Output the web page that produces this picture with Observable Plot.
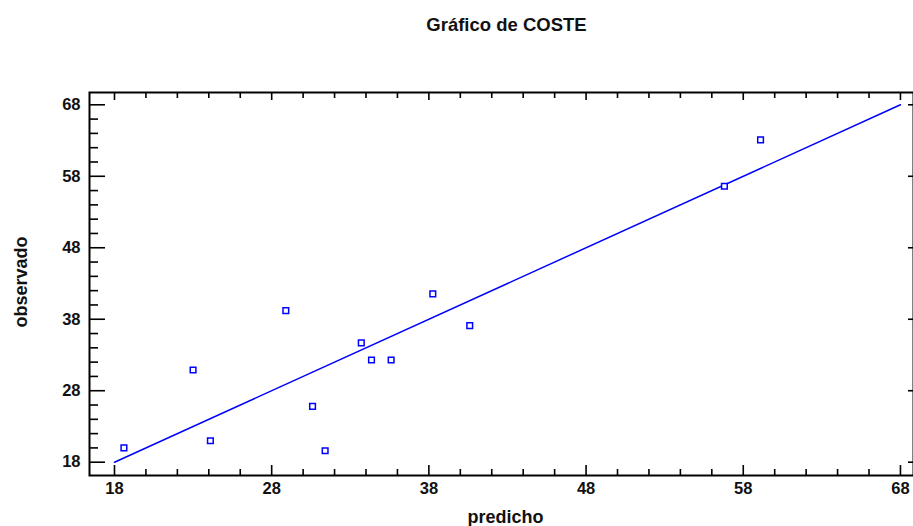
<!DOCTYPE html>
<html><head><meta charset="utf-8">
<script src="https://cdn.jsdelivr.net/npm/d3@7"></script>
<script src="https://cdn.jsdelivr.net/npm/@observablehq/plot@0.6"></script>
<style>body{margin:0;background:#fff;} svg{display:block}</style>
</head><body><div id="chart"></div>
<script>
const title = "Gráfico de COSTE";
const xLabel = "predicho";
const yLabel = "observado";
const predicho  = [18.6, 23.0, 24.1, 28.9, 30.6, 31.4, 33.7, 34.35, 35.6, 38.25, 40.6, 56.8, 59.1];
const observado = [20.0, 30.9, 21.0, 39.2, 25.8, 19.6, 34.7, 32.3, 32.3, 41.55, 37.1, 56.6, 63.1];
const fitX = [18, 68];
const fitY = [18, 68];
const majorTicks = [18, 28, 38, 48, 58, 68];
const minorTicks = [20, 22, 24, 26, 30, 32, 34, 36, 40, 42, 44, 46, 50, 52, 54, 56, 60, 62, 64, 66];

const points = predicho.map((p, i) => ({p, o: observado[i]}));
const fit = fitX.map((x, i) => ({x, y: fitY[i]}));

const W = 913, H = 526;
const mL = 89, mR = 0, mT = 92, mB = 51;
const pw = W - mL - mR, ph = H - mT - mB;
const blue = "#0000ff";
const ink = "#111";
const font = {fontSize: 16.5, fontWeight: "bold", fill: ink};
const labelFont = {fontSize: 18, fontWeight: "bold", fill: ink, textAnchor: "middle", lineAnchor: "middle"};

const chart = Plot.plot({
  width: W, height: H,
  marginLeft: mL, marginRight: mR, marginTop: mT, marginBottom: mB,
  style: {fontFamily: "'Liberation Sans', Arial, sans-serif", background: "white", color: ink},
  x: {domain: [16.41, 68.83]},
  y: {domain: [16.14, 69.72]},
  marks: [
    Plot.frame({stroke: "black", strokeWidth: 2}),
    Plot.ruleX(majorTicks, {stroke: "black", strokeWidth: 1.6, insetTop: ph - 10}),
    Plot.ruleX(minorTicks, {stroke: "black", strokeWidth: 1.6, insetTop: ph - 6}),
    Plot.ruleX(majorTicks, {stroke: "black", strokeWidth: 1.6, insetBottom: ph - 8}),
    Plot.ruleX(minorTicks, {stroke: "black", strokeWidth: 1.6, insetBottom: ph - 6}),
    Plot.ruleY(majorTicks, {stroke: "black", strokeWidth: 1.6, insetRight: pw - 16}),
    Plot.ruleY(minorTicks, {stroke: "black", strokeWidth: 1.6, insetRight: pw - 9}),
    Plot.ruleY(majorTicks, {stroke: "black", strokeWidth: 1.6, insetLeft: pw - 5}),
    Plot.axisX(majorTicks, {tickSize: 0, tickPadding: 7, label: null, ...font}),
    Plot.axisY(majorTicks, {tickSize: 0, tickPadding: 9, label: null, ...font}),
    Plot.line(fit, {x: "x", y: "y", stroke: blue, strokeWidth: 1.5}),
    Plot.dot(points, {x: "p", y: "o", symbol: "square", r: 3.2, stroke: blue, strokeWidth: 1.5, fill: "white"}),
    Plot.text([title], {frameAnchor: "top", dy: -67, dx: 5, ...labelFont, fontSize: 18.5}),
    Plot.text([xLabel], {frameAnchor: "bottom", dy: 42, dx: 4, ...labelFont}),
    Plot.text([yLabel], {frameAnchor: "left", dx: -68, dy: -2, rotate: -90, ...labelFont})
  ]
});
document.getElementById("chart").appendChild(chart);
</script>
</body></html>
